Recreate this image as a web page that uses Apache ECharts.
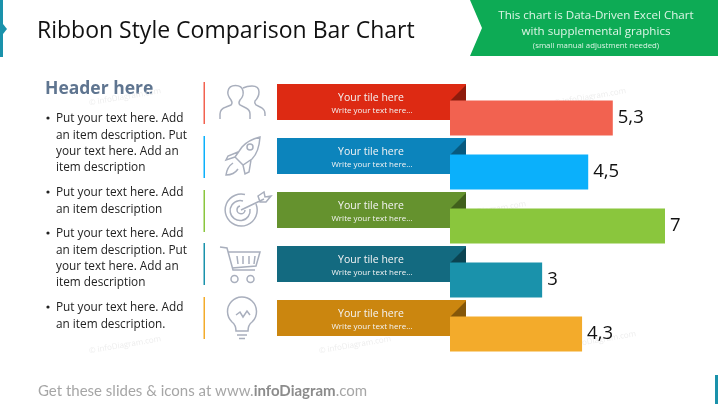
<!DOCTYPE html>
<html><head><meta charset="utf-8">
<style>html,body{margin:0;padding:0;background:#fff}#c{width:718px;height:404px}</style>
<script src="https://cdn.jsdelivr.net/npm/echarts@6/dist/echarts.min.js"></script>
</head><body><div id="c"></div>
<script>
const categories = ['Item 1','Item 2','Item 3','Item 4','Item 5'];
const values = [5.3,4.5,7,3,4.3];
const valueLabels = ['5,3','4,5','7','3','4,3'];
const barColors = ['#F26250','#0BB0FB','#8AC63D','#1A92AB','#F3AB2B'];
const ribbonColors = ['#DD2A13','#0C84BC','#65922E','#136A80','#CB860F'];
const foldColors = ['#8E1B0C','#075A80','#41601C','#0B4452','#855709'];
const ribbonTitles = ['Your tile here','Your tile here','Your tile here','Your tile here','Your tile here'];
const ribbonTexts = ['Write your text here...','Write your text here...','Write your text here...','Write your text here...','Write your text here...'];
const bulletTexts = [
 ['Put your text here. Add','an item description. Put','your text here. Add an','item description'],
 ['Put your text here. Add','an item description'],
 ['Put your text here. Add','an item description. Put','your text here. Add an','item description'],
 ['Put your text here. Add','an item description.']
];
const FONT = '"Open Sans","Noto Sans",sans-serif';
const ICON = '#A9AFBD';
const iconPaths = [
 'M220 119V114Q220 109 226 107L231 105Q233 103 231 100Q227 95 228 91Q229 85.5 235.5 85.5Q242 85.5 243 91Q244 96 240 100Q238 103 240 105L246 108Q250 110 250 114V119M243 88Q247 86 252 86Q259 86 259 92Q259 97 255 101Q254 103 256 105L262 108Q265 110 265 114V116',
 'M260 137Q248 140 242 147L235 157L243 165L252 159Q259 152 260 137ZM238 152L228 156L226 160L235 157M251 160L249 172L245 174L243 165M233 163Q227 167 226 175Q234 175 238 169M253 147A3 3 0 1 1 247 147A3 3 0 1 1 253 147',
 'M256 204A16 16 0 1 1 245 194.5M250 209A10 10 0 1 1 243 201M245 210A4 4 0 1 1 240 206M241 210L264 199M258 196L264 192L265 197L271 196L266 202L260 202Z',
 'M220 247L227 248L233 270H255M228 252L260 252L256 266L232 268M237 256L238 264M243 256V264M249 256V264M255 256L254 264M238 279A3.5 3.5 0 1 1 231 279A3.5 3.5 0 1 1 238 279M254 279A3.5 3.5 0 1 1 247 279A3.5 3.5 0 1 1 254 279',
 'M236 331Q236 325 232 322A14.5 14.5 0 1 1 252 322Q248 325 248 331ZM236 315L240 312L243 317L247 311L250 315M237 335H247M239 338.5H245'
];
const watermarks = [[125,345],[355,345],[590,97],[380,105],[125,97],[600,340],[490,210]];

iconPaths.forEach((d,i)=>echarts.graphic.registerShape('icon'+i,echarts.graphic.extendPath(d,{})));

const graphic = [
 {type:'rect',shape:{x:0,y:0,width:3,height:57},style:{fill:'#1A92AB'}},
 {type:'polygon',shape:{points:[[3,24],[7,29],[3,34]]},style:{fill:'#1A92AB'}},
 {type:'rect',shape:{x:715,y:375,width:3,height:29},style:{fill:'#1A92AB'}},
 {type:'polygon',shape:{points:[[470,0],[718,0],[718,56],[470,56],[482,28]]},style:{fill:'#0DAB55'}},
 {type:'text',x:37,y:31,style:{text:'Ribbon Style Comparison Bar Chart',font:'23px '+FONT,fill:'#111',textVerticalAlign:'middle'}},
 {type:'text',x:596,y:16,style:{text:'This chart is Data-Driven Excel Chart',font:'11.6px '+FONT,fill:'#DDF5E6',textAlign:'center',textVerticalAlign:'middle'}},
 {type:'text',x:596,y:32,style:{text:'with supplemental graphics',font:'11.6px '+FONT,fill:'#DDF5E6',textAlign:'center',textVerticalAlign:'middle'}},
 {type:'text',x:596,y:45.5,style:{text:'(small manual adjustment needed)',font:'7.8px '+FONT,fill:'#DDF5E6',textAlign:'center',textVerticalAlign:'middle'}},
 {type:'text',x:45,y:89,style:{text:'Header here',font:'bold 17.5px '+FONT,fill:'#5F7590',textVerticalAlign:'middle'}},
 {type:'text',x:38,y:391,style:{rich:{a:{font:'15px Lato,sans-serif',fill:'#A6A6A6'},b:{font:'bold 15px Lato,sans-serif',fill:'#8C8C8C'}},text:'{a|Get these slides & icons at www.}{b|infoDiagram}{a|.com}',textVerticalAlign:'middle'}}
];
watermarks.forEach(p=>graphic.push({type:'text',x:p[0],y:p[1],rotation:0.17,style:{text:'© infoDiagram.com',font:'8px '+FONT,fill:'#EDEDED',textAlign:'center',textVerticalAlign:'middle'}}));
const bulletY = [118,192,233,307];
bulletTexts.forEach((lines,i)=>{
 graphic.push({type:'circle',shape:{cx:48,cy:bulletY[i],r:1.6},style:{fill:'#222'}});
 lines.forEach((t,j)=>graphic.push({type:'text',x:56,y:bulletY[i]+1+j*16.2,style:{text:t,font:'11.8px '+FONT,fill:'#222',textVerticalAlign:'middle'}}));
});
const ruleY = [82,136,190,243,297];
ruleY.forEach((y,i)=>graphic.push({type:'rect',shape:{x:203.5,y:y,width:1.5,height:42},style:{fill:barColors[i]}}));
iconPaths.forEach((d,i)=>graphic.push({type:'icon'+i,style:{fill:'none',stroke:ICON,lineWidth:1.5}}));

const chart = echarts.init(document.getElementById('c'),null,{renderer:'canvas'});
chart.setOption({
 animation:false,
 backgroundColor:'#fff',
 grid:{left:450,right:53,top:91,height:270,containLabel:false},
 xAxis:{type:'value',min:0,max:7,show:false},
 yAxis:{type:'category',data:categories,inverse:true,show:false},
 graphic:graphic,
 series:[
  {type:'custom',z:1,coordinateSystem:'cartesian2d',encode:{x:0,y:1},
   data:categories.map((c,i)=>[0,i]),
   renderItem:(params,api)=>{
    const i=params.dataIndex, c=api.coord([0,i]);
    const x0=c[0], y=c[1];
    return {type:'group',children:[
     {type:'rect',shape:{x:x0-173,y:y-34,width:189,height:36},style:{fill:ribbonColors[i]}},
     {type:'polygon',shape:{points:[[x0+16,y-33],[x0+16,y-17],[x0,y-17]]},style:{fill:foldColors[i]}},
     {type:'text',x:x0-79,y:y-20,style:{text:ribbonTitles[i],font:'10.5px '+FONT,fill:'#F4F4F4',textAlign:'center',textVerticalAlign:'middle'}},
     {type:'text',x:x0-78,y:y-7.5,style:{text:ribbonTexts[i],font:'8px '+FONT,fill:'#F4F4F4',textAlign:'center',textVerticalAlign:'middle'}}
    ]};
   }},
  {type:'bar',z:2,barWidth:35,data:values.map((v,i)=>({value:v,itemStyle:{color:barColors[i]}})),
   label:{show:true,position:'right',distance:5,color:'#111',fontSize:18.5,fontFamily:'"Open Sans",sans-serif',
    formatter:p=>valueLabels[p.dataIndex]}}
 ]
});
</script></body></html>
